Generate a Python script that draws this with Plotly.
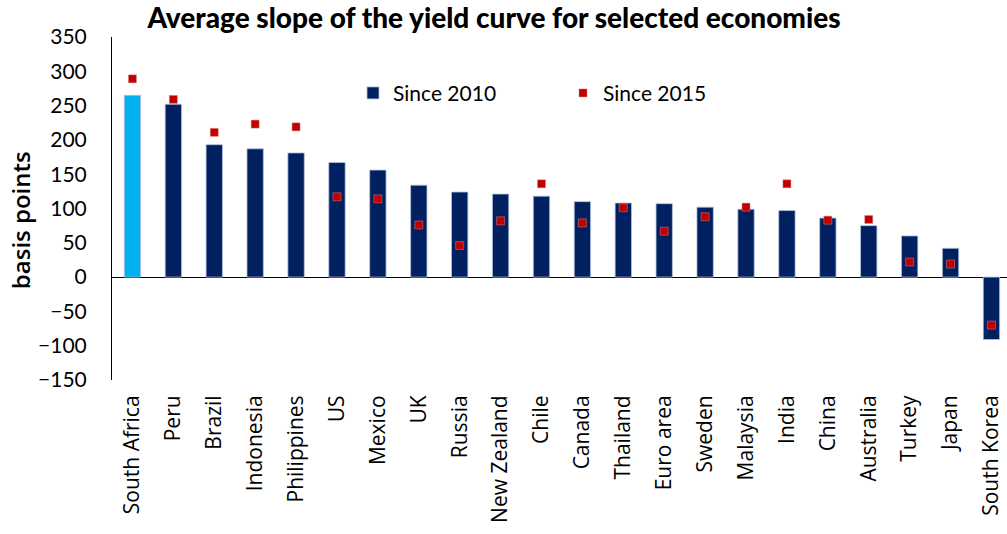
import plotly.graph_objects as go

# Average slope of the yield curve (basis points)
countries = ["South Africa", "Peru", "Brazil", "Indonesia", "Philippines", "US",
             "Mexico", "UK", "Russia", "New Zealand", "Chile", "Canada", "Thailand",
             "Euro area", "Sweden", "Malaysia", "India", "China", "Australia",
             "Turkey", "Japan", "South Korea"]
since_2010 = [265, 252, 193, 187, 181, 167, 156, 134, 124, 121, 118, 110, 108,
              107, 102, 99, 97, 86, 75, 60, 42, -91]
since_2015 = [289, 259, 211, 223, 219, 117, 114, 76, 46, 82, 136, 79, 101,
              67, 88, 102, 136, 83, 84, 22, 19, -70]
y_ticks = [-150, -100, -50, 0, 50, 100, 150, 200, 250, 300, 350]
highlight_country = "South Africa"

NAVY = "#002060"
HIGHLIGHT = "#00B0F0"
RED = "#C00000"
EDGE = dict(color="#B4C2DC", width=0.8)

rest = [(c, v) for c, v in zip(countries, since_2010) if c != highlight_country]
hl = [(c, v) for c, v in zip(countries, since_2010) if c == highlight_country]

fig = go.Figure()
fig.add_trace(go.Bar(
    x=[c for c, _ in rest], y=[v for _, v in rest], name="Since 2010",
    marker=dict(color=NAVY, line=EDGE), width=0.4,
))
fig.add_trace(go.Bar(
    x=[c for c, _ in hl], y=[v for _, v in hl], name="Since 2010",
    marker=dict(color=HIGHLIGHT, line=EDGE), width=0.4, showlegend=False,
))
fig.add_trace(go.Scatter(
    x=countries, y=since_2015, name="Since 2015", mode="markers",
    marker=dict(symbol="square", size=8, color=RED,
                line=dict(color="#E08080", width=0.5)),
))

fig.update_layout(
    width=1007, height=534,
    margin=dict(l=112, r=0, t=37, b=154),
    paper_bgcolor="white", plot_bgcolor="white",
    font=dict(family="Lato", size=20, color="black"),
    barmode="overlay",
    title=dict(
        text="Average slope of the yield curve for selected economies",
        font=dict(family="Lato", size=28, color="black", weight=900),
        x=0.4906, xref="container", xanchor="center",
        y=1 - 18 / 534, yref="container", yanchor="middle",
    ),
    showlegend=True,
    legend=dict(
        orientation="h", x=(353 - 112) / 895, xanchor="left",
        y=(380 - 93) / 343.3, yanchor="middle",
        font=dict(family="Lato", size=21, color="black"),
        bgcolor="rgba(0,0,0,0)", entrywidth=165, entrywidthmode="pixels",
        itemclick=False,
    ),
)

fig.update_xaxes(
    type="category", categoryorder="array", categoryarray=countries,
    range=[-0.5, 21.38], showgrid=False, showline=False, zeroline=False,
    tickangle=-90, ticks="outside", ticklen=6, tickcolor="rgba(0,0,0,0)",
    tickfont=dict(family="Open Sans", size=21, color="black"),
)
fig.update_yaxes(
    range=[-150, 350], tickvals=y_ticks, showgrid=False,
    showline=True, linecolor="black", linewidth=1,
    zeroline=True, zerolinecolor="black", zerolinewidth=1,
    ticks="outside", ticklen=20, tickcolor="rgba(0,0,0,0)",
    tickfont=dict(family="Lato", size=21, color="black"),
)

fig.add_annotation(
    text="basis points", textangle=-90,
    xref="paper", yref="paper", x=(20 - 112) / 895, y=(380 - 220) / 343.3,
    xanchor="center", yanchor="middle", showarrow=False,
    font=dict(family="Open Sans", size=24, color="black", weight=600),
)

fig.write_html("out.html")
